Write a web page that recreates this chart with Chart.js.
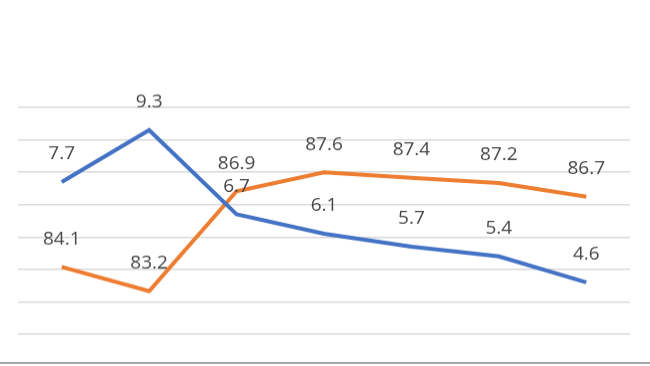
<!DOCTYPE html>
<html lang="en">
<head>
    <meta charset="UTF-8">
    <title>Two series line chart</title>
    <script src="https://cdn.jsdelivr.net/npm/chart.js"></script>
    <style>
        html, body { margin: 0; padding: 0; background: #fff; overflow: hidden; }
        /* the grey rule running along the bottom edge of the picture */
        canvas { display: block; border-bottom: 2px solid #a6a6a6; }
    </style>
</head>
<body>
    <canvas id="lineChart" width="650" height="364"></canvas>

    <script>
        // values
        const categories = ['1', '2', '3', '4', '5', '6', '7'];
        const blueValues = [7.7, 9.3, 6.7, 6.1, 5.7, 5.4, 4.6];
        const orangeValues = [84.1, 83.2, 86.9, 87.6, 87.4, 87.2, 86.7];

        // draws the number above every point, like the Excel data labels
        const valueLabels = {
            id: 'valueLabels',
            afterDatasetsDraw(chart) {
                const ctx = chart.ctx;
                ctx.save();
                ctx.font = '19px "Open Sans", sans-serif';
                ctx.fillStyle = '#474747';
                ctx.textAlign = 'center';
                ctx.textBaseline = 'middle';
                chart.data.datasets.forEach((ds, i) => {
                    chart.getDatasetMeta(i).data.forEach((pt, j) => {
                        ctx.fillText(ds.data[j].toFixed(1), pt.x, pt.y - 28);
                    });
                });
                ctx.restore();
            }
        };

        const ctx = document.getElementById('lineChart').getContext('2d');
        const chart = new Chart(ctx, {
            type: 'line',
            data: {
                labels: categories,
                datasets: [{
                    data: blueValues,
                    yAxisID: 'y',
                    borderColor: '#4472C4',
                    borderWidth: 4,
                    pointRadius: 0,
                    tension: 0,
                    fill: false
                }, {
                    data: orangeValues,
                    yAxisID: 'y2',
                    borderColor: '#ED7D31',
                    borderWidth: 4,
                    pointRadius: 0,
                    tension: 0,
                    fill: false
                }]
            },
            options: {
                responsive: false,
                animation: false,
                layout: { padding: { top: 108, left: 18, right: 20, bottom: 0 } },
                plugins: {
                    legend: { display: false },
                    tooltip: { enabled: false }
                },
                scales: {
                    x: {
                        display: false,
                        offset: true
                    },
                    y: {
                        min: 2.14,
                        max: 10,
                        ticks: { display: false, stepSize: 1 },
                        border: { display: false },
                        grid: {
                            drawTicks: false,
                            lineWidth: 1.5,
                            color: c => c.index === 0 ? 'rgba(0,0,0,0)' : '#d9d9d9'
                        }
                    },
                    y2: {
                        display: false,
                        position: 'right',
                        min: 80.58,
                        max: 90
                    }
                }
            },
            plugins: [valueLabels]
        });
    </script>
</body>
</html>
